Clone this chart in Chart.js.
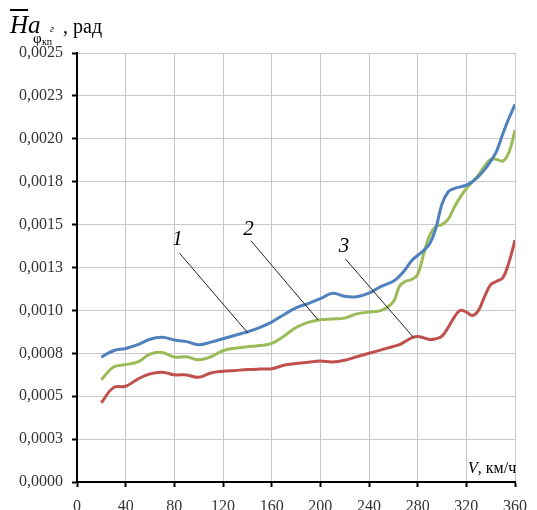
<!DOCTYPE html>
<html lang="ru">
<head>
<meta charset="UTF-8">
<title>Ha — V</title>
<script src="https://cdn.jsdelivr.net/npm/chart.js@4.4.1/dist/chart.umd.min.js"></script>
<style>
  * { box-sizing: border-box; margin: 0; padding: 0; }
  html, body { width: 537px; height: 510px; overflow: hidden; background: #fff; }
  body { font-family: 'Liberation Serif', 'DejaVu Serif', serif; color: #000; }
  .wrap { position: relative; width: 537px; height: 510px; }
  .lbl { position: absolute; line-height: 1; white-space: nowrap; }
</style>
</head>
<body>
<div class="wrap">
  <canvas id="chart"></canvas>

  <!-- подпись оси Y -->
  <div class="lbl" style="left:10px; top:12px; font-size:25px; font-style:italic;"><span style="text-decoration:overline;">H</span>a</div>
  <div class="lbl" style="left:33px; top:31px; font-size:15px;">φ</div>
  <div class="lbl" style="left:50px; top:24px; font-size:10px; font-style:italic;">г</div>
  <div class="lbl" style="left:42px; top:37px; font-size:10px;">кп</div>
  <div class="lbl" style="left:63px; top:16px; font-size:20px;">, рад</div>

  <!-- подпись оси X -->
  <div class="lbl" style="left:468px; top:460px; font-size:16px;"><i>V</i>, км/ч</div>
</div>

<script>
  // скорость, км/ч
  const speeds = [20, 30, 40, 50, 60, 70, 80, 90, 100, 110, 120, 130, 140, 150, 160, 170, 180, 190, 200,
                  210, 220, 230, 240, 250, 260, 265, 270, 275, 280, 285, 290, 295, 300, 305, 310,
                  315, 320, 325, 330, 335, 340, 345, 350, 355, 360];

  // кривая 1 (синяя)
  const curve1 = [0.000728, 0.000765, 0.000778, 0.000800, 0.000832, 0.000843, 0.000828, 0.000818, 0.000800,
                  0.000815, 0.000835, 0.000855, 0.000875, 0.000900, 0.000932, 0.000975, 0.001015, 0.001040,
                  0.001068, 0.001100, 0.001082, 0.001080, 0.001100, 0.001140, 0.001170, 0.001200, 0.001240,
                  0.001290, 0.001320, 0.001350, 0.001390, 0.001480, 0.001620, 0.001690, 0.001710, 0.001720,
                  0.001730, 0.001750, 0.001780, 0.001820, 0.001870, 0.001930, 0.002030, 0.002120, 0.002200];

  // кривая 2 (зелёная)
  const curve2 = [0.000596, 0.000670, 0.000684, 0.000700, 0.000745, 0.000755, 0.000728, 0.000730, 0.000712,
                  0.000730, 0.000765, 0.000780, 0.000788, 0.000795, 0.000808, 0.000850, 0.000900, 0.000930,
                  0.000945, 0.000950, 0.000955, 0.000980, 0.000990, 0.001000, 0.001050, 0.001140, 0.001170,
                  0.001180, 0.001210, 0.001330, 0.001440, 0.001490, 0.001500, 0.001530, 0.001600, 0.001660,
                  0.001710, 0.001750, 0.001790, 0.001840, 0.001880, 0.001880, 0.001870, 0.001920, 0.002050];

  // кривая 3 (красная)
  const curve3 = [0.000462, 0.000550, 0.000558, 0.000600, 0.000630, 0.000640, 0.000625, 0.000624, 0.000610,
                  0.000635, 0.000645, 0.000650, 0.000655, 0.000658, 0.000660, 0.000680, 0.000690, 0.000698,
                  0.000705, 0.000700, 0.000710, 0.000730, 0.000750, 0.000770, 0.000790, 0.000800, 0.000820,
                  0.000840, 0.000848, 0.000840, 0.000830, 0.000835, 0.000850, 0.000900, 0.000960, 0.001000,
                  0.000990, 0.000970, 0.001000, 0.001080, 0.001150, 0.001170, 0.001190, 0.001280, 0.001410];

  const xTickLabels = ['0', '40', '80', '120', '160', '200', '240', '280', '320', '360'];
  const yTickLabels = ['0,0000', '0,0003', '0,0005', '0,0008', '0,0010', '0,0013',
                       '0,0015', '0,0018', '0,0020', '0,0023', '0,0025'];

  // выноски: номер, точка надписи и точка на кривой (в единицах осей)
  const callouts = [
    { text: '1', label: [82.5, 0.00139], from: [84.3, 0.001333], to: [140.6, 0.000867] },
    { text: '2', label: [141, 0.00145], from: [142.9, 0.001406], to: [198.2, 0.000944] },
    { text: '3', label: [219.5, 0.00135], from: [220.6, 0.00130], to: [276.5, 0.000843] }
  ];

  const toPoints = arr => arr.map((v, i) => ({ x: speeds[i], y: v }));

  function lineSet(data, color) {
    return {
      data: toPoints(data),
      borderColor: color,
      borderWidth: 3,
      pointRadius: 0,
      tension: 0.4,
      fill: false
    };
  }

  const serif = "'Liberation Serif', 'DejaVu Serif', serif";

  new Chart(document.getElementById('chart'), {
    type: 'line',
    data: {
      datasets: [
        lineSet(curve1, '#4F81BD'),
        lineSet(curve2, '#9BBB59'),
        lineSet(curve3, '#C0504D')
      ]
    },
    options: {
      responsive: true,
      maintainAspectRatio: false,
      animation: false,
      layout: { padding: { top: 53, right: 20, left: 0, bottom: 0 } },
      plugins: {
        legend: { display: false },
        tooltip: { enabled: false }
      },
      scales: {
        x: {
          type: 'linear',
          min: 0,
          max: 360,
          ticks: {
            stepSize: 40,
            color: '#333',
            font: { family: serif, size: 16 },
            padding: 10,
            maxRotation: 0,
            callback: (v, i) => xTickLabels[i]
          },
          grid: { color: '#c8c8c8', lineWidth: 1, tickColor: '#000', tickLength: 5, tickWidth: 2 },
          border: { color: '#000', width: 2 },
          afterFit: s => { s.height = 28; }
        },
        y: {
          min: 0,
          max: 0.0025,
          ticks: {
            stepSize: 0.00025,
            color: '#333',
            font: { family: serif, size: 16 },
            padding: 9,
            callback: (v, i) => yTickLabels[i]
          },
          grid: { color: '#c8c8c8', lineWidth: 1, tickColor: '#000', tickLength: 5, tickWidth: 2 },
          border: { color: '#000', width: 2 },
          afterFit: s => { s.width = 77; }
        }
      }
    },
    plugins: [
      {
        // номера кривых с выносными линиями
        id: 'callouts',
        afterDatasetsDraw(chart) {
          const { ctx, scales: { x, y } } = chart;
          ctx.save();
          ctx.strokeStyle = '#222';
          ctx.lineWidth = 1;
          ctx.fillStyle = '#000';
          ctx.font = 'italic 21px ' + serif;
          ctx.textAlign = 'center';
          ctx.textBaseline = 'bottom';
          callouts.forEach(c => {
            ctx.beginPath();
            ctx.moveTo(x.getPixelForValue(c.from[0]), y.getPixelForValue(c.from[1]));
            ctx.lineTo(x.getPixelForValue(c.to[0]), y.getPixelForValue(c.to[1]));
            ctx.stroke();
            ctx.fillText(c.text, x.getPixelForValue(c.label[0]), y.getPixelForValue(c.label[1]) + 7);
          });
          ctx.restore();
        }
      }
    ]
  });
</script>
</body>
</html>
